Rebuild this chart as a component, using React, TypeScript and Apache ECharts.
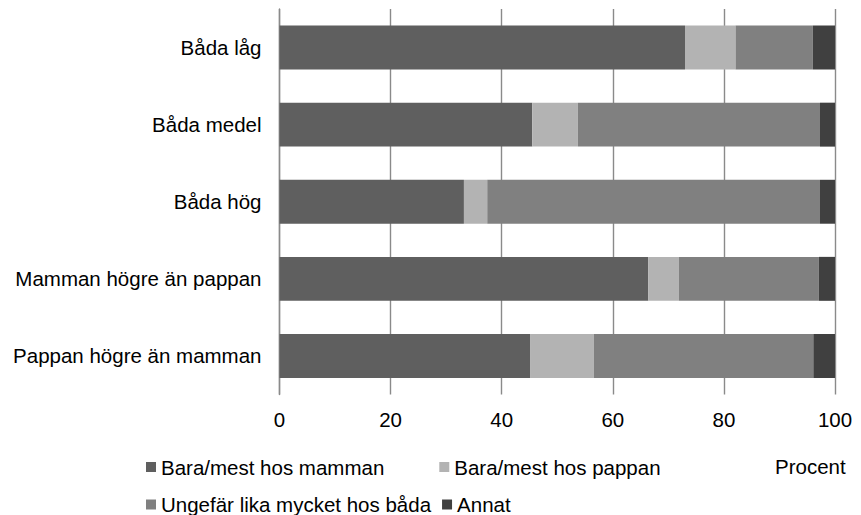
import React, { useEffect, useRef } from "react";
import * as echarts from "echarts";

const categories = ["Båda låg", "Båda medel", "Båda hög", "Mamman högre än pappan", "Pappan högre än mamman"];
const seriesNames = ["Bara/mest hos mamman", "Bara/mest hos pappan", "Ungefär lika mycket hos båda", "Annat"];
const mamman = [73.0, 45.5, 33.2, 66.4, 45.1];
const pappan = [9.1, 8.2, 4.2, 5.5, 11.5];
const lika = [13.9, 43.6, 59.9, 25.2, 39.5];
const annat = [4.0, 2.7, 2.7, 2.9, 3.9];
const colors = ["#5f5f5f", "#b3b3b3", "#808080", "#404040"];
const unitLabel = "Procent";

const FONT = "'Liberation Sans', Arial, sans-serif";
const FS = 20.5;

export default function App() {
  const ref = useRef<HTMLDivElement>(null);
  useEffect(() => {
    if (!ref.current) return;
    const chart = echarts.init(ref.current, null, { renderer: "svg" });
    const values = [mamman, pappan, lika, annat];
    chart.setOption({
      animation: false,
      backgroundColor: "#ffffff",
      textStyle: { fontFamily: FONT, fontSize: FS, color: "#000" },
      grid: { left: 279.5, right: 26, top: 9, bottom: 120.5, containLabel: false },
      legend: [
        {
          left: 146,
          top: 456,
          padding: 0,
          itemWidth: 10,
          itemHeight: 10,
          itemGap: 55,
          icon: "rect",
          data: [seriesNames[0], seriesNames[1]],
          textStyle: { fontFamily: FONT, fontSize: FS, color: "#000", lineHeight: 22 },
        },
        {
          left: 146,
          top: 494,
          padding: 0,
          itemWidth: 10,
          itemHeight: 10,
          itemGap: 11,
          icon: "rect",
          data: [seriesNames[2], seriesNames[3]],
          textStyle: { fontFamily: FONT, fontSize: FS, color: "#000", lineHeight: 20 },
        },
      ],
      graphic: [
        {
          type: "text",
          left: 775,
          top: 456,
          style: { text: unitLabel, font: `${FS}px ${FONT}`, fill: "#000" },
        },
      ],
      xAxis: {
        type: "value",
        min: 0,
        max: 100,
        interval: 20,
        axisLine: { show: false },
        axisTick: { show: false },
        axisLabel: { margin: 14, color: "#000", fontSize: FS, fontFamily: FONT },
        splitLine: { show: true, lineStyle: { color: "#8a8a8a", width: 1.4 } },
      },
      yAxis: {
        type: "category",
        inverse: true,
        data: categories,
        axisLine: { show: true, lineStyle: { color: "#8a8a8a", width: 1.4 } },
        axisTick: { show: false },
        axisLabel: { margin: 18, color: "#000", fontSize: FS, fontFamily: FONT },
        splitLine: { show: false },
      },
      series: seriesNames.map((name, i) => ({
        name,
        type: "bar",
        stack: "total",
        barCategoryGap: "43%",
        itemStyle: { color: colors[i] },
        emphasis: { disabled: true },
        data: values[i],
      })),
    });
    return () => chart.dispose();
  }, []);
  return (
    <div
      ref={ref}
      style={{ position: "fixed", left: 0, top: 0, width: 861, height: 515 }}
    />
  );
}
